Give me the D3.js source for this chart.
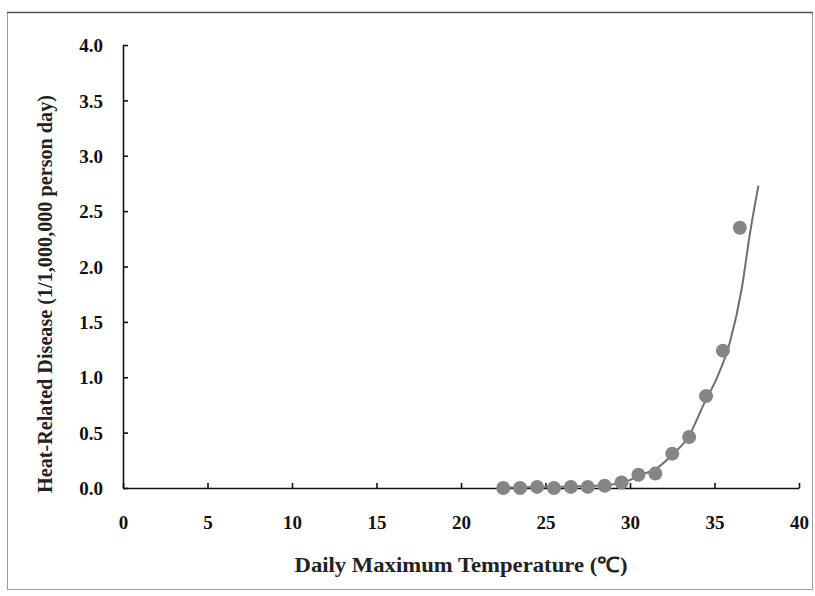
<!DOCTYPE html>
<html>
<head>
<meta charset="utf-8">
<script src="https://cdn.jsdelivr.net/npm/d3@7/dist/d3.min.js"></script>
<style>
  html, body { margin: 0; padding: 0; background: #fff; }
  svg { display: block; }
</style>
</head>
<body>
<svg id="chart" width="815" height="596"></svg>
<script>
// ---- data ----
const tempX = [22.5, 23.5, 24.5, 25.5, 26.5, 27.5, 28.5, 29.5, 30.5, 31.5, 32.5, 33.5, 34.5, 35.5, 36.5];
const diseaseY = [0.0, 0.0, 0.01, 0.0, 0.01, 0.01, 0.02, 0.05, 0.12, 0.13, 0.31, 0.46, 0.83, 1.24, 2.35];
// fitted curve
const fitX = [22.5, 25.0, 27.0, 28.8, 29.8, 30.5, 31.6, 32.5, 33.45, 34.44, 35.13, 35.9, 36.6, 37.1, 37.6];
const fitY = [0.003, 0.008, 0.015, 0.03, 0.06, 0.11, 0.18, 0.30, 0.46, 0.78, 0.99, 1.31, 1.79, 2.30, 2.73];
const xTicks = [0, 5, 10, 15, 20, 25, 30, 35, 40];
const yTicks = [0.0, 0.5, 1.0, 1.5, 2.0, 2.5, 3.0, 3.5, 4.0];
const xTitle = "Daily Maximum Temperature (\u2103)";
const yTitle = "Heat-Related Disease (1/1,000,000 person day)";

const svg = d3.select("#chart");
const font = "'Liberation Serif', 'Times New Roman', serif";

// outer frame
svg.append("rect").attr("x", 7.5).attr("y", 12.5).attr("width", 805).attr("height", 577)
  .attr("fill", "none").attr("stroke", "#9a9a9a").attr("stroke-width", 1);
svg.append("line").attr("x1", 7).attr("x2", 813).attr("y1", 12.5).attr("y2", 12.5)
  .attr("stroke", "#555").attr("stroke-width", 1.5);

const x = d3.scaleLinear().domain([0, 40]).range([123, 799]);
const y = d3.scaleLinear().domain([0, 4]).range([488, 45]);

// axes
const gx = svg.append("g").attr("transform", `translate(0,${y(0)})`)
  .call(d3.axisBottom(x).tickValues(xTicks).tickSizeInner(-5).tickSizeOuter(0).tickPadding(0).tickFormat(d3.format("d")));
const gy = svg.append("g").attr("transform", `translate(${x(0)},0)`)
  .call(d3.axisLeft(y).tickValues(yTicks).tickSizeInner(-5).tickSizeOuter(0).tickPadding(0).tickFormat(d3.format(".1f")));

[gx, gy].forEach(g => {
  g.select(".domain").attr("stroke", "#111").attr("stroke-width", 1.6);
  g.selectAll(".tick line").attr("stroke", "#111").attr("stroke-width", 1.6);
  g.selectAll(".tick text").attr("fill", "#111").attr("font-family", font)
    .attr("font-size", 19).attr("font-weight", "bold");
});
gx.selectAll(".tick text").attr("dy", null).attr("y", 41);
gy.selectAll(".tick text").attr("x", -20).attr("dy", "0.35em");

// fitted curve
const line = d3.line().x((d, i) => x(fitX[i])).y((d, i) => y(fitY[i])).curve(d3.curveMonotoneX);
svg.append("path").datum(fitX).attr("d", line)
  .attr("fill", "none").attr("stroke", "#6f6f6f").attr("stroke-width", 2);

// points
svg.append("g").selectAll("circle").data(tempX).join("circle")
  .attr("cx", (d) => x(d)).attr("cy", (d, i) => y(diseaseY[i])).attr("r", 7)
  .attr("fill", "#858585");

// titles
svg.append("text").attr("x", 461).attr("y", 572).attr("text-anchor", "middle")
  .attr("font-family", font).attr("font-size", 21).attr("font-weight", "bold").attr("fill", "#222")
  .attr("textLength", 333).attr("lengthAdjust", "spacingAndGlyphs")
  .text(xTitle);
svg.append("text").attr("transform", `translate(52,${(95 + 493) / 2}) rotate(-90)`).attr("text-anchor", "middle")
  .attr("font-family", font).attr("font-size", 20).attr("font-weight", "bold").attr("fill", "#222")
  .attr("textLength", 398).attr("lengthAdjust", "spacingAndGlyphs")
  .text(yTitle);
</script>
</body>
</html>
